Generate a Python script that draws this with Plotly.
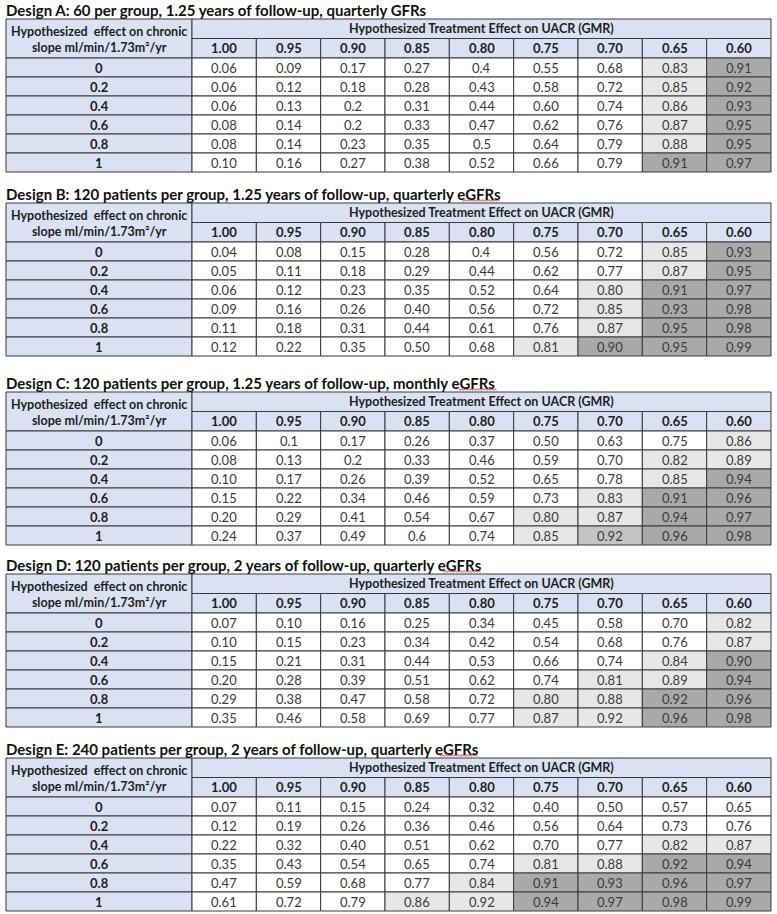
import plotly.graph_objects as go

# ---------------- data ----------------
design_titles = [
    "Design A: 60 per group, 1.25 years of follow-up, quarterly GFRs",
    "Design B: 120 patients per group, 1.25 years of follow-up, quarterly eGFRs",
    "Design C: 120 patients per group, 1.25 years of follow-up, monthly eGFRs",
    "Design D: 120 patients per group, 2 years of follow-up, quarterly eGFRs",
    "Design E: 240 patients per group, 2 years of follow-up, quarterly eGFRs",
]
gmr_labels = ["1.00", "0.95", "0.90", "0.85", "0.80", "0.75", "0.70", "0.65", "0.60"]
slope_labels = ["0", "0.2", "0.4", "0.6", "0.8", "1"]
row_header = "Hypothesized  effect on chronic<br>slope ml/min/1.73m²/yr"
col_header = "Hypothesized Treatment Effect on UACR (GMR)"

power_A = [
    ["0.06", "0.09", "0.17", "0.27", "0.4", "0.55", "0.68", "0.83", "0.91"],
    ["0.06", "0.12", "0.18", "0.28", "0.43", "0.58", "0.72", "0.85", "0.92"],
    ["0.06", "0.13", "0.2", "0.31", "0.44", "0.60", "0.74", "0.86", "0.93"],
    ["0.08", "0.14", "0.2", "0.33", "0.47", "0.62", "0.76", "0.87", "0.95"],
    ["0.08", "0.14", "0.23", "0.35", "0.5", "0.64", "0.79", "0.88", "0.95"],
    ["0.10", "0.16", "0.27", "0.38", "0.52", "0.66", "0.79", "0.91", "0.97"],
]
power_B = [
    ["0.04", "0.08", "0.15", "0.28", "0.4", "0.56", "0.72", "0.85", "0.93"],
    ["0.05", "0.11", "0.18", "0.29", "0.44", "0.62", "0.77", "0.87", "0.95"],
    ["0.06", "0.12", "0.23", "0.35", "0.52", "0.64", "0.80", "0.91", "0.97"],
    ["0.09", "0.16", "0.26", "0.40", "0.56", "0.72", "0.85", "0.93", "0.98"],
    ["0.11", "0.18", "0.31", "0.44", "0.61", "0.76", "0.87", "0.95", "0.98"],
    ["0.12", "0.22", "0.35", "0.50", "0.68", "0.81", "0.90", "0.95", "0.99"],
]
power_C = [
    ["0.06", "0.1", "0.17", "0.26", "0.37", "0.50", "0.63", "0.75", "0.86"],
    ["0.08", "0.13", "0.2", "0.33", "0.46", "0.59", "0.70", "0.82", "0.89"],
    ["0.10", "0.17", "0.26", "0.39", "0.52", "0.65", "0.78", "0.85", "0.94"],
    ["0.15", "0.22", "0.34", "0.46", "0.59", "0.73", "0.83", "0.91", "0.96"],
    ["0.20", "0.29", "0.41", "0.54", "0.67", "0.80", "0.87", "0.94", "0.97"],
    ["0.24", "0.37", "0.49", "0.6", "0.74", "0.85", "0.92", "0.96", "0.98"],
]
power_D = [
    ["0.07", "0.10", "0.16", "0.25", "0.34", "0.45", "0.58", "0.70", "0.82"],
    ["0.10", "0.15", "0.23", "0.34", "0.42", "0.54", "0.68", "0.76", "0.87"],
    ["0.15", "0.21", "0.31", "0.44", "0.53", "0.66", "0.74", "0.84", "0.90"],
    ["0.20", "0.28", "0.39", "0.51", "0.62", "0.74", "0.81", "0.89", "0.94"],
    ["0.29", "0.38", "0.47", "0.58", "0.72", "0.80", "0.88", "0.92", "0.96"],
    ["0.35", "0.46", "0.58", "0.69", "0.77", "0.87", "0.92", "0.96", "0.98"],
]
power_E = [
    ["0.07", "0.11", "0.15", "0.24", "0.32", "0.40", "0.50", "0.57", "0.65"],
    ["0.12", "0.19", "0.26", "0.36", "0.46", "0.56", "0.64", "0.73", "0.76"],
    ["0.22", "0.32", "0.40", "0.51", "0.62", "0.70", "0.77", "0.82", "0.87"],
    ["0.35", "0.43", "0.54", "0.65", "0.74", "0.81", "0.88", "0.92", "0.94"],
    ["0.47", "0.59", "0.68", "0.77", "0.84", "0.91", "0.93", "0.96", "0.97"],
    ["0.61", "0.72", "0.79", "0.86", "0.92", "0.94", "0.97", "0.98", "0.99"],
]
tables = [power_A, power_B, power_C, power_D, power_E]

# shading categories (by power level) and the few hand-shaded exceptions
light_threshold = 0.80
dark_threshold = 0.90
shade_exceptions = {(2, 5, 6): "mid", (3, 5, 6): "light", (4, 5, 4): "light"}

# ---------------- styling / layout ----------------
W, H = 777, 914
FONT = "Lato"
BLUE = "#d9e1f2"
LIGHT = "#e7e7e7"
MID = "#c4c4c4"
DARK = "#a9a9a9"
LINE = "#3a3a3a"
TXT = "#3a3a3a"
HDR = "#1e1e1e"

x_left, x_label, x_right = 6, 192, 771
table_tops = [19, 203, 392, 574, 758]
hdr_h = 19.5
row_h = 19.0
ncol = len(gmr_labels)
col_w = (x_right - x_label) / ncol
col_edges = [x_label + i * col_w for i in range(ncol + 1)]
# spell-check squiggle under "eGFRs" (x-span in page pixels), None where absent
squiggle_spans = [None, (462, 500), (459, 497), (443, 481), (440, 478)]

shapes = []
annots = []


def rect(x0, y0, x1, y1, fill):
    shapes.append(dict(type="rect", xref="x", yref="y", x0=x0, y0=y0, x1=x1, y1=y1,
                       fillcolor=fill, line=dict(color=LINE, width=1), layer="below"))


def text(x, y, s, size=12, bold=False, color=TXT, anchor="center"):
    annots.append(dict(x=x, y=y, xref="x", yref="y", text=f"<b>{s}</b>" if bold else s,
                       showarrow=False, xanchor=anchor, yanchor="middle",
                       font=dict(family=FONT, size=size, color=color)))


def squiggle(x0, x1, y):
    pts = []
    x, k = x0, 0
    while x <= x1:
        pts.append(f"{'M' if k == 0 else 'L'}{x:.1f},{y + (0.9 if k % 2 else -0.9):.1f}")
        x += 1.5
        k += 1
    shapes.append(dict(type="path", xref="x", yref="y", path=" ".join(pts),
                       line=dict(color="#e03030", width=0.9), layer="above"))


for t, (title, data) in enumerate(zip(design_titles, tables)):
    top = table_tops[t]
    text(x_left - 2, top - 9.5, title, size=15, bold=True, color="#111111", anchor="left")
    if squiggle_spans[t]:
        squiggle(squiggle_spans[t][0], squiggle_spans[t][1], top - 2.5)
    hy1 = top + hdr_h
    hy2 = top + 2 * hdr_h
    # row-header block
    rect(x_left, top, x_label, hy2, BLUE)
    text((x_left + x_label) / 2, (top + hy2) / 2 + 1, row_header, size=12.5, bold=True, color=HDR)
    # merged column header
    rect(x_label, top, x_right, hy1, BLUE)
    text((x_label + x_right) / 2, (top + hy1) / 2, col_header, size=12.5, bold=True, color=HDR)
    for j, g in enumerate(gmr_labels):
        rect(col_edges[j], hy1, col_edges[j + 1], hy2, BLUE)
        text((col_edges[j] + col_edges[j + 1]) / 2, (hy1 + hy2) / 2, g, size=13, bold=True,
             color=HDR)
    for i, (lab, row) in enumerate(zip(slope_labels, data)):
        y0 = hy2 + i * row_h
        y1 = y0 + row_h
        rect(x_left, y0, x_label, y1, BLUE)
        text((x_left + x_label) / 2, (y0 + y1) / 2, lab, size=13, bold=True, color=HDR)
        for j, v in enumerate(row):
            val = float(v)
            kind = "light" if light_threshold <= val < dark_threshold else (
                "dark" if val >= dark_threshold else "none")
            kind = shade_exceptions.get((t, i, j), kind)
            fill = {"none": "#ffffff", "light": LIGHT, "mid": MID, "dark": DARK}[kind]
            rect(col_edges[j], y0, col_edges[j + 1], y1, fill)
            text((col_edges[j] + col_edges[j + 1]) / 2, (y0 + y1) / 2, v, size=13, color=TXT)

fig = go.Figure()
fig.add_trace(go.Scatter(x=[0, W], y=[0, H], mode="markers",
                         marker=dict(opacity=0), hoverinfo="skip", showlegend=False))
fig.update_layout(
    width=W, height=H, margin=dict(l=0, r=0, t=0, b=0),
    paper_bgcolor="white", plot_bgcolor="white",
    xaxis=dict(range=[0, W], visible=False, fixedrange=True),
    yaxis=dict(range=[H, 0], visible=False, fixedrange=True),
    shapes=shapes, annotations=annots, showlegend=False,
)
fig.write_html(
    "out.html",
    config={"displayModeBar": False, "staticPlot": True},
    post_script="document.body.style.margin='0px';document.body.style.overflow='hidden';",
)
